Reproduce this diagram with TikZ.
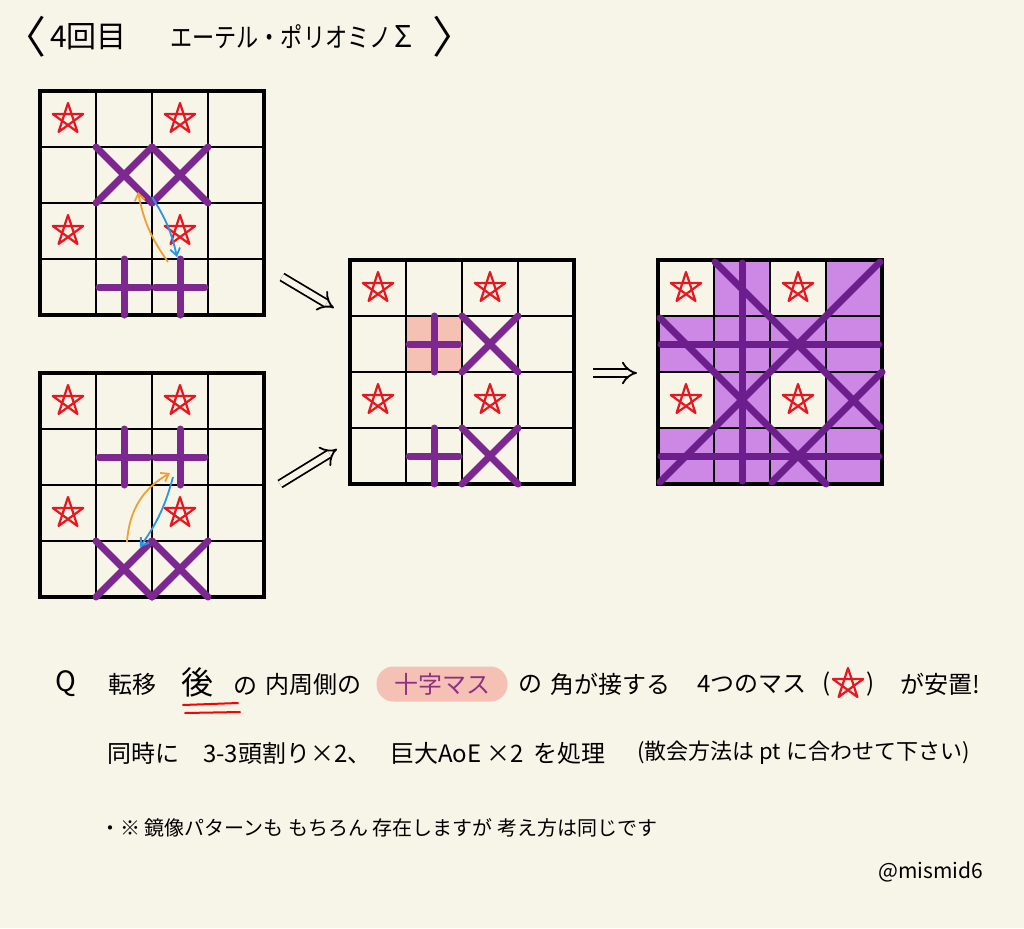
\documentclass[tikz,border=0pt]{standalone}
\usepackage{fontspec}
\newfontfamily\jp{Noto Sans CJK JP}
\usetikzlibrary{arrows.meta, positioning}
\definecolor{bgcream}{RGB}{247,244,232}
\definecolor{markpurple}{RGB}{125,40,145}
\definecolor{linepurple}{RGB}{108,30,140}
\definecolor{fillpurple}{RGB}{204,136,228}
\definecolor{pinkcell}{RGB}{244,193,180}
\definecolor{starred}{RGB}{232,22,30}
\definecolor{turnorange}{RGB}{240,160,50}
\definecolor{turnblue}{RGB}{40,150,230}
\definecolor{textpurple}{RGB}{140,50,130}
\tikzset{
  board/.style={line width=4pt},
  cellline/.style={line width=1.6pt},
  tilemark/.style={line width=7pt, draw=markpurple, line cap=round},
  bigmark/.style={line width=7pt, draw=linepurple, line cap=round},
  starline/.style={draw=starred, line width=2.2pt, line join=round},
  redstar/.pic={\draw[starline] (90:16pt) -- (234:16pt) -- (18:16pt) -- (162:16pt) -- (306:16pt) -- cycle;},
  turnarrow/.style={line width=1.8pt, -{Straight Barb[length=7pt,width=10pt]}},
  thenarrow/.style={double=bgcream, double distance=6pt, line width=1.8pt, -{Implies[length=9pt]}},
  txt/.style={font=\jp\fontsize{24}{24}\selectfont, anchor=west, inner sep=0pt},
  pill/.style={fill=pinkcell, rounded corners=17pt, minimum width=131pt, minimum height=35pt, text=textpurple, font=\jp\fontsize{24}{24}\selectfont},
}
\newcommand{\xcell}[2]{\draw[tilemark] ({#1*56},{#2*56}) -- ++(56,56) ({#1*56+56},{#2*56}) -- ++(-56,56);}
\newcommand{\pcell}[2]{\draw[tilemark] ({#1*56+28},{#2*56}) -- ++(0,56) ({#1*56+3},{#2*56+28}) -- ++(50,0);}
\newcommand{\emptyboard}{
  \foreach \i in {1,2,3} {\draw[cellline] (\i*56,0) -- (\i*56,224) (0,\i*56) -- (224,\i*56);}
  \draw[board] (0,0) rectangle (224,224);
  \foreach \cc/\rr in {0/0,2/0,0/2,2/2} {\pic at ({\cc*56+28},{\rr*56+28}) {redstar};}
}

\begin{document}
\begin{tikzpicture}[x=1pt, y=-1pt]
  \fill[bgcream] (0,0) rectangle (1024,928);
  \useasboundingbox (0,0) rectangle (1024,928);

  \node[txt, font=\jp\fontsize{44}{44}\selectfont] (lbr) at (2,37) {〈};
  \node[txt, font=\jp\fontsize{30}{30}\selectfont] (round) at (50,37) {4回目};
  \node[txt, font=\jp\fontsize{27}{27}\selectfont] (name) at (170,37) {\scalebox{0.82}[1]{エーテル・ポリオミノ}};
  \node[txt, font=\jp\fontsize{30}{30}\selectfont] (sigma) at (394,37) {Σ};
  \node[txt, font=\jp\fontsize{44}{44}\selectfont] (rbr) at (432,37) {〉};

  \begin{scope}[shift={(40,91)}]
    \emptyboard
    \xcell{1}{1} \xcell{2}{1}
    \pcell{1}{3} \pcell{2}{3}
    \coordinate (o1s) at (128,171);
    \coordinate (o1e) at (98,101);
    \coordinate (b1s) at (112,106);
    \coordinate (b1e) at (137,166);
    \draw[turnarrow, turnorange] (o1s) to[bend left=12] (o1e);
    \draw[turnarrow, turnblue] (b1s) to[bend left=10] (b1e);
  \end{scope}

  \begin{scope}[shift={(40,373)}]
    \emptyboard
    \pcell{1}{1} \pcell{2}{1}
    \xcell{1}{3} \xcell{2}{3}
    \coordinate (o2s) at (87,169);
    \coordinate (o2e) at (130,100);
    \coordinate (b2s) at (133,104);
    \coordinate (b2e) at (100,174);
    \draw[turnarrow, turnorange] (o2s) to[bend left=28] (o2e);
    \draw[turnarrow, turnblue] (b2s) to[bend left=10] (b2e);
  \end{scope}

  \begin{scope}[shift={(350,260)}]
    \fill[pinkcell] (56,56) rectangle (112,112);
    \emptyboard
    \pcell{1}{1} \xcell{2}{1}
    \pcell{1}{3} \xcell{2}{3}
  \end{scope}

  \begin{scope}[shift={(658,260)}]
    \fill[fillpurple] (0,0) rectangle (224,224);
    \foreach \cc/\rr in {0/0,2/0,0/2,2/2} {\fill[bgcream] (\cc*56,\rr*56) rectangle ++(56,56);}
    \emptyboard
    \draw[bigmark] (84,3) -- (84,221);
    \draw[bigmark] (3,84) -- (221,84);
    \draw[bigmark] (3,196) -- (221,196);
    \draw[bigmark] (57,2) -- (222,167);
    \draw[bigmark] (2,58) -- (168,224);
    \draw[bigmark] (2,222) -- (222,2);
    \draw[bigmark] (114,222) -- (224,112);
  \end{scope}

  \coordinate (top1) at (282,277);
  \coordinate (top2) at (334,308);
  \coordinate (bot1) at (280,484);
  \coordinate (bot2) at (337,449);
  \coordinate (mid1) at (593,373);
  \coordinate (mid2) at (637,373);
  \draw[thenarrow] (top1) -- (top2);
  \draw[thenarrow] (bot1) -- (bot2);
  \draw[thenarrow] (mid1) -- (mid2);

  \node[txt, font=\jp\fontsize{28}{28}\selectfont] (qmark) at (55,684) {Q};
  \node[txt] (t1) at (108,684) {転移};
  \node[txt, font=\jp\fontsize{32}{32}\selectfont] (t2) at (181,682) {後};
  \draw[red, line width=2pt, line cap=round] (183,705) -- (238,703) (185,713) -- (240,712);
  \node[txt] (t3) at (233,686) {の};
  \node[txt] (t4) at (265,684) {内周側の};
  \node[pill] (cross) at (442,684) {十字マス};
  \node[txt] (t5) at (518,684) {の};
  \node[txt] (t6) at (550,684) {角が接する};
  \node[txt] (t7) at (697,684) {4つのマス};
  \node[txt] (t8) at (822,684) {(};
  \pic at (848,684) {redstar};
  \node[txt] (t9) at (866,684) {)};
  \node[txt] (t10) at (900,684) {が安置!};

  \node[txt] (u1) at (107,753) {同時に};
  \node[txt] (u2) at (203,753) {3-3頭割り×2、};
  \node[txt] (u3) at (390,753) {巨大AoE ×2};
  \node[txt] (u4) at (533,753) {を処理};
  \node[txt, font=\jp\fontsize{22}{22}\selectfont] (u5) at (637,753) {(散会方法は pt に合わせて下さい)};

  \node[txt, font=\jp\fontsize{20}{20}\selectfont] (note) at (100,828) {・※ 鏡像パターンも もちろん 存在しますが 考え方は同じです};

  \node[txt, font=\jp\fontsize{21}{21}\selectfont] (sign) at (878,872) {@mismid6};
\end{tikzpicture}
\end{document}
